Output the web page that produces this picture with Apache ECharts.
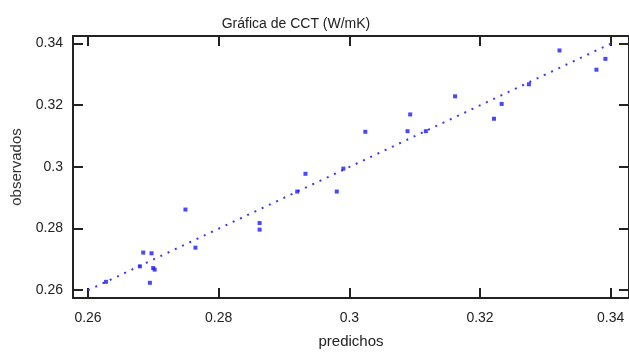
<!DOCTYPE html>
<html>
<head>
<meta charset="utf-8">
<script src="https://cdn.jsdelivr.net/npm/echarts@6/dist/echarts.min.js"></script>
<style>
  html, body { margin: 0; padding: 0; background: #fff; }
  #chart { width: 629px; height: 354px; }
</style>
</head>
<body>
<div id="chart"></div>
<script>
// Predicted vs. observed thermal conductivity
const predichos = [0.26275, 0.26794, 0.26845, 0.26972, 0.26947, 0.26997, 0.27020, 0.27491, 0.27644,
  0.28626, 0.28626, 0.29202, 0.29328, 0.29807, 0.29908, 0.30244, 0.30890, 0.30931,
  0.31171, 0.31618, 0.32214, 0.32331, 0.32748, 0.33216, 0.33781, 0.33919];
const observados = [0.26265, 0.26767, 0.27214, 0.27191, 0.26233, 0.26712, 0.26660, 0.28609, 0.27373,
  0.28172, 0.27958, 0.29194, 0.29769, 0.29194, 0.29938, 0.31132, 0.31152, 0.31695,
  0.31152, 0.32283, 0.31556, 0.32036, 0.32673, 0.33771, 0.33146, 0.33498];

// Fitted line end points
const ajusteX = [0.26, 0.34];
const ajusteY = [0.2599, 0.3399];

// Tick values shared by both axes
const ticks = [0.26, 0.28, 0.30, 0.32, 0.34];
const rangoX = [0.2577, 0.3428];
const rangoY = [0.2574, 0.3424];

const chart = echarts.init(document.getElementById('chart'));
const fontFam = '"Liberation Sans", Arial, sans-serif';
const fmt = v => String(parseFloat(v.toFixed(2)));

function axisBase(extra) {
  return Object.assign({
    type: 'value',
    splitLine: { show: false },
    axisLine: { show: true, lineStyle: { color: '#222', width: 2 } },
    axisTick: { show: true, inside: true, length: 10, customValues: ticks,
      lineStyle: { color: '#222', width: 2 } },
  }, extra);
}

chart.setOption({
  animation: false,
  backgroundColor: '#fff',
  title: {
    text: 'Gráfica de CCT (W/mK)',
    left: 291, top: 12, textAlign: 'center',
    textStyle: { fontFamily: fontFam, fontSize: 14, fontWeight: 'normal', color: '#222' }
  },
  grid: { left: 73, top: 36, right: -2, bottom: 52 },
  xAxis: [
    axisBase({
      min: rangoX[0], max: rangoX[1], position: 'bottom',
      name: 'predichos', nameLocation: 'middle', nameGap: 36,
      nameTextStyle: { fontFamily: fontFam, fontSize: 15, color: '#222' },
      axisLabel: { customValues: ticks, formatter: fmt, margin: 13,
        fontFamily: fontFam, fontSize: 14, color: '#222' }
    }),
    axisBase({
      min: rangoX[0], max: rangoX[1], position: 'top',
      axisLabel: { show: false }
    })
  ],
  yAxis: [
    axisBase({
      min: rangoY[0], max: rangoY[1], position: 'left',
      name: 'observados', nameLocation: 'middle', nameGap: 48,
      nameTextStyle: { fontFamily: fontFam, fontSize: 15, color: '#333' },
      axisLabel: { customValues: ticks, formatter: fmt, margin: 10,
        fontFamily: fontFam, fontSize: 14, color: '#222' }
    }),
    axisBase({
      min: rangoY[0], max: rangoY[1], position: 'right',
      axisLabel: { show: false }
    })
  ],
  series: [
    {
      type: 'line',
      data: ajusteX.map((x, i) => [x, ajusteY[i]]),
      showSymbol: false,
      lineStyle: { color: '#3a3aff', width: 2, type: [2, 6] },
      z: 2
    },
    {
      type: 'scatter',
      data: predichos.map((x, i) => [x, observados[i]]),
      symbol: 'rect',
      symbolSize: 4,
      itemStyle: { color: '#1a1aff' },
      z: 3
    }
  ]
});
</script>
</body>
</html>
